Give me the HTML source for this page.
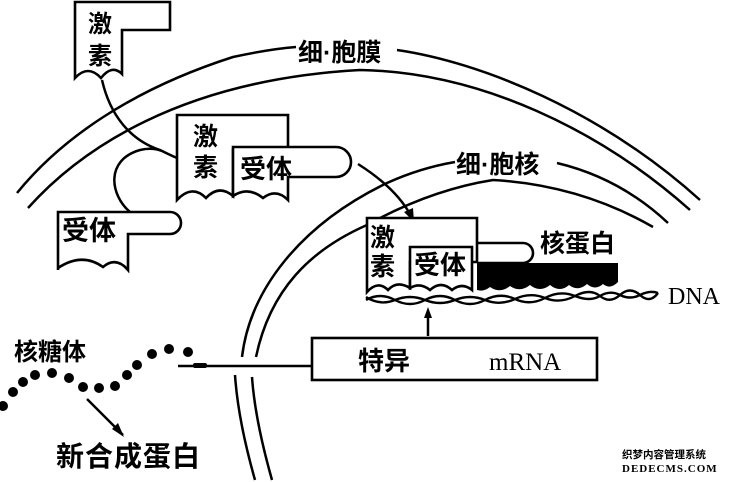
<!DOCTYPE html>
<html><head><meta charset="utf-8"><style>
html,body{margin:0;padding:0;background:#fff;}
svg{display:block}
text{font-family:"Liberation Sans","Noto Sans CJK SC","WenQuanYi Zen Hei",sans-serif;fill:#000;font-weight:bold;}
.s{font-family:"Liberation Serif","Noto Serif CJK SC",serif;font-weight:normal;}
</style></head><body>
<svg width="731" height="482" viewBox="0 0 731 482" xmlns="http://www.w3.org/2000/svg">
<g fill="none" stroke="#000" stroke-width="2.5">
<path d="M17,193 C60,140 130,90 233,57 Q270,49 296,47"/>
<path d="M397,50 C480,62 600,110 700,200"/>
<path d="M28,208 C80,150 180,80 360,70 C480,72 600,130 690,210"/>
<path d="M255,480 Q238,420 235,375"/>
<path d="M242,357 C250,290 300,225 387,183 Q420,168 455,162"/>
<path d="M557,163 Q620,178 668,223"/>
<path d="M272,480 Q255,420 252,377"/>
<path d="M256,357 C270,290 310,250 367,225 Q430,190 493,180 Q580,185 653,227"/>
<path d="M102,80 C110,115 130,140 160,150 Q170,155 177,158"/>
<path d="M130,212 C110,195 105,160 140,150 Q152,147 162,151"/>
<path d="M358,164 C380,178 400,195 411,216"/>
<path d="M428,336 V313"/>
<path d="M312,366 H178"/>
<path d="M87,399 L123,435"/>
</g>
<polygon points="414,222 404,212 413,208" fill="#000"/>
<polygon points="428,307 424,318 432,318" fill="#000"/>
<rect x="193" y="363" width="14" height="5" rx="2" fill="#000"/>
<polygon points="124,437 112,429 118,423" fill="#000"/>
<path d="M75,78 V2 H170 V30 H122 V74 Q112,64 101,78 Q88,64 75,78Z" fill="#fff" stroke="#000" stroke-width="2.6"/>
<text x="88" y="32" font-size="24">激</text>
<text x="88" y="64" font-size="24">素</text>
<path d="M177,200 V115 H288 V150 H233 V196 Q219,184 206,198 Q192,184 177,200Z" fill="#fff" stroke="#000" stroke-width="2.6"/>
<path d="M233,196 V147 H336 A15,15 0 0 1 336,177 H288 V200 Q276,188 263,198 Q248,186 233,196Z" fill="#fff" stroke="#000" stroke-width="2.6"/>
<text x="193" y="145" font-size="25">激</text>
<text x="193" y="176" font-size="25">素</text>
<text x="240" y="178" font-size="26">受体</text>
<path d="M58,270 V212 H170 A11,11 0 0 1 170,234 H128 V270 Q116,256 103,267 Q82,252 58,268Z" fill="#fff" stroke="#000" stroke-width="2.6"/>
<text x="62" y="240" font-size="27">受体</text>
<path d="M477,243 H523 A10,10 0 0 1 523,263 H477" fill="none" stroke="#000" stroke-width="2.6"/>
<path d="M477,263 H618 V282 Q610,290 603,284 Q595,291 587,284 Q578,292 569,285 Q560,293 550,285 Q540,293 530,285 Q520,293 510,286 Q500,294 490,287 Q484,292 477,290Z" fill="#000"/>
<path d="M367,292 V218 H477 V262 H410 V288 Q397,280 388,290 Q378,280 367,292Z" fill="#fff" stroke="#000" stroke-width="2.6"/>
<path d="M410,288 V247 H472 V290 Q462,282 452,290 Q441,280 430,290 Q420,282 410,288Z" fill="#fff" stroke="#000" stroke-width="2.6"/>
<text x="370" y="246" font-size="25">激</text>
<text x="370" y="275" font-size="25">素</text>
<text x="414" y="274" font-size="26">受体</text>
<text x="540" y="252" font-size="25">核蛋白</text>
<g fill="none" stroke="#000" stroke-width="2.4">
<path d="M366,300 Q380,292 395,300 T425,300 T455,300 T485,300 T515,299 T545,298 T575,296 T600,296 T620,295 T640,295 T658,293"/>
<path d="M366,297 Q380,306 395,300 T425,300 T455,300 T485,300 T515,299 T545,298 T575,296 T600,296 T620,295 T640,295 T658,293"/>
</g>
<text class="s" x="668" y="304" font-size="24">DNA</text>
<rect x="312" y="338" width="285" height="42" fill="#fff" stroke="#000" stroke-width="2.6"/>
<text x="358" y="370" font-size="26">特异</text>
<text class="s" x="489" y="370" font-size="25">mRNA</text>
<text x="298" y="61" font-size="25">细·胞膜</text>
<text x="456" y="173" font-size="25">细·胞核</text>
<text x="14" y="360" font-size="24">核糖体</text>
<text x="56" y="466" font-size="28" letter-spacing="1">新合成蛋白</text>
<g fill="#000">
<circle cx="3" cy="406" r="5"/><circle cx="13" cy="392" r="5"/><circle cx="23" cy="382" r="5"/>
<circle cx="35" cy="375" r="5"/><circle cx="52" cy="373" r="5"/><circle cx="69" cy="378" r="5"/>
<circle cx="83" cy="387" r="5"/><circle cx="99" cy="388" r="5"/><circle cx="115" cy="386" r="5"/>
<circle cx="127" cy="375" r="5"/><circle cx="137" cy="365" r="5"/><circle cx="152" cy="354" r="5"/>
<circle cx="169" cy="349" r="5"/><circle cx="188" cy="352" r="5"/>
</g>
<text x="622" y="458" font-size="10.5">织梦内容管理系统</text>
<text class="s" x="622" y="472" font-size="11" letter-spacing="1" style="font-weight:bold">DEDECMS.COM</text>
</svg>
</body></html>
